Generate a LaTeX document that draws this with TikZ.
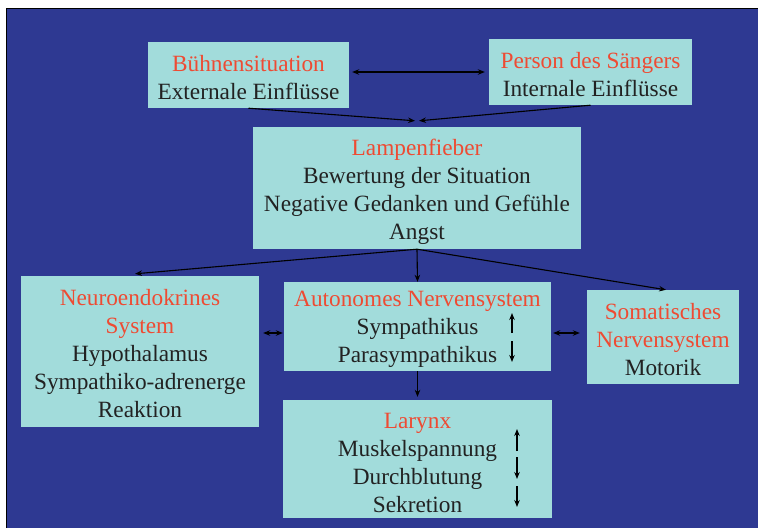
\documentclass[tikz,border=0pt]{standalone}
\usepackage{fontspec}
\setmainfont{Liberation Serif}
\usetikzlibrary{arrows.meta}
\definecolor{slide}{HTML}{2E3992}
\definecolor{card}{HTML}{A2DCDB}
\definecolor{head}{HTML}{EE4B33}
\definecolor{ink}{HTML}{222222}
\newcommand\hd[1]{\textcolor{head}{#1}}
\begin{document}
\begin{tikzpicture}[x=1pt,y=-1pt,
  box/.style={fill=card, inner sep=0pt},
  txt/.style={inner sep=0pt, align=center, text=ink,
    font=\fontsize{23.3}{28}\selectfont},
  arr/.style={-{Stealth[length=7pt,width=5.5pt]}, line width=1.1pt, draw=black},
  dbl/.style={{Stealth[length=7pt,width=5.5pt]}-{Stealth[length=7pt,width=5.5pt]}, line width=1.1pt, draw=black}]
\useasboundingbox (0,0) rectangle (758,528);
% slide background with its frame
\fill[white] (0,0) rectangle (758,528);
\fill[slide] (6,8) rectangle (758,528);
\draw[line width=1.3pt, black] (6.5,528) -- (6.5,8.5) -- (758,8.5);

% boxes
\node[box, minimum width=201pt, minimum height=66pt] (stage) at (248.5,75) {};
\node[box, minimum width=203pt, minimum height=66pt] (singer) at (590.5,72) {};
\node[box, minimum width=328pt, minimum height=122pt] (lamp) at (417,188) {};
\node[box, minimum width=238pt, minimum height=151pt] (neuro) at (140,351.5) {};
\node[box, minimum width=267pt, minimum height=89pt] (aut) at (417.5,326.5) {};
\node[box, minimum width=269pt, minimum height=118pt] (lar) at (417.5,459) {};
\node[box, minimum width=152pt, minimum height=94pt] (som) at (663,337) {};

% box texts
\node[txt] (stage-t) at ([yshift=-3pt]stage.center)
  {\hd{Bühnensituation}\\Externale Einflüsse};
\node[txt] (singer-t) at ([yshift=-3pt]singer.center)
  {\hd{Person des Sängers}\\Internale Einflüsse};
\node[txt] (lamp-t) at ([yshift=-3.5pt]lamp.center)
  {\hd{Lampenfieber}\\Bewertung der Situation\\Negative Gedanken und Gefühle\\Angst};
\node[txt] (neuro-t) at ([yshift=-2.5pt]neuro.center)
  {\hd{Neuroendokrines}\\\hd{System}\\Hypothalamus\\Sympathiko-adrenerge\\Reaktion};
\node[txt] (aut-t) at ([yshift=-2.5pt]aut.center)
  {\hd{Autonomes Nervensystem}\\Sympathikus\\Parasympathikus};
\node[txt] (lar-t) at ([yshift=-3.5pt]lar.center)
  {\hd{Larynx}\\Muskelspannung\\Durchblutung\\Sekretion};
\node[txt] (som-t) at ([yshift=-3pt]som.center)
  {\hd{Somatisches}\\\hd{Nervensystem}\\Motorik};

% connectors
\draw[arr] (stage.south) -- ([shift={(-2,-6)}]lamp.north);
\draw[arr] (singer.south) -- ([shift={(2,-6)}]lamp.north);
\draw[dbl] ([shift={(3,-3)}]stage.east) -- ([shift={(-4,0)}]singer.west);
\draw[arr] (lamp.south) -- ([shift={(-5,-2)}]neuro.north);
\draw[arr] (lamp.south) -- (aut.north);
\draw[arr] (lamp.south) -- ([shift={(3,0)}]som.north);
\draw[dbl] ([shift={(4,-18.5)}]neuro.east) -- ([shift={(-1,6.5)}]aut.west);
\draw[dbl] ([shift={(2,6.5)}]aut.east) -- ([shift={(-7,-4)}]som.west);
\draw[arr] (aut.south) -- ([shift={(0,-3)}]lar.north);

% rise and fall marks
\draw[arr] ([shift={(94.5,6.5)}]aut.center) -- ([shift={(94.5,-13.5)}]aut.center);
\draw[arr] ([shift={(94.5,14.5)}]aut.center) -- ([shift={(94.5,35.5)}]aut.center);
\draw[arr] ([shift={(99.5,-8)}]lar.center) -- ([shift={(99.5,-30)}]lar.center);
\draw[arr] ([shift={(99.5,-2)}]lar.center) -- ([shift={(99.5,20)}]lar.center);
\draw[arr] ([shift={(99.5,27)}]lar.center) -- ([shift={(99.5,48)}]lar.center);
\end{tikzpicture}
\end{document}
